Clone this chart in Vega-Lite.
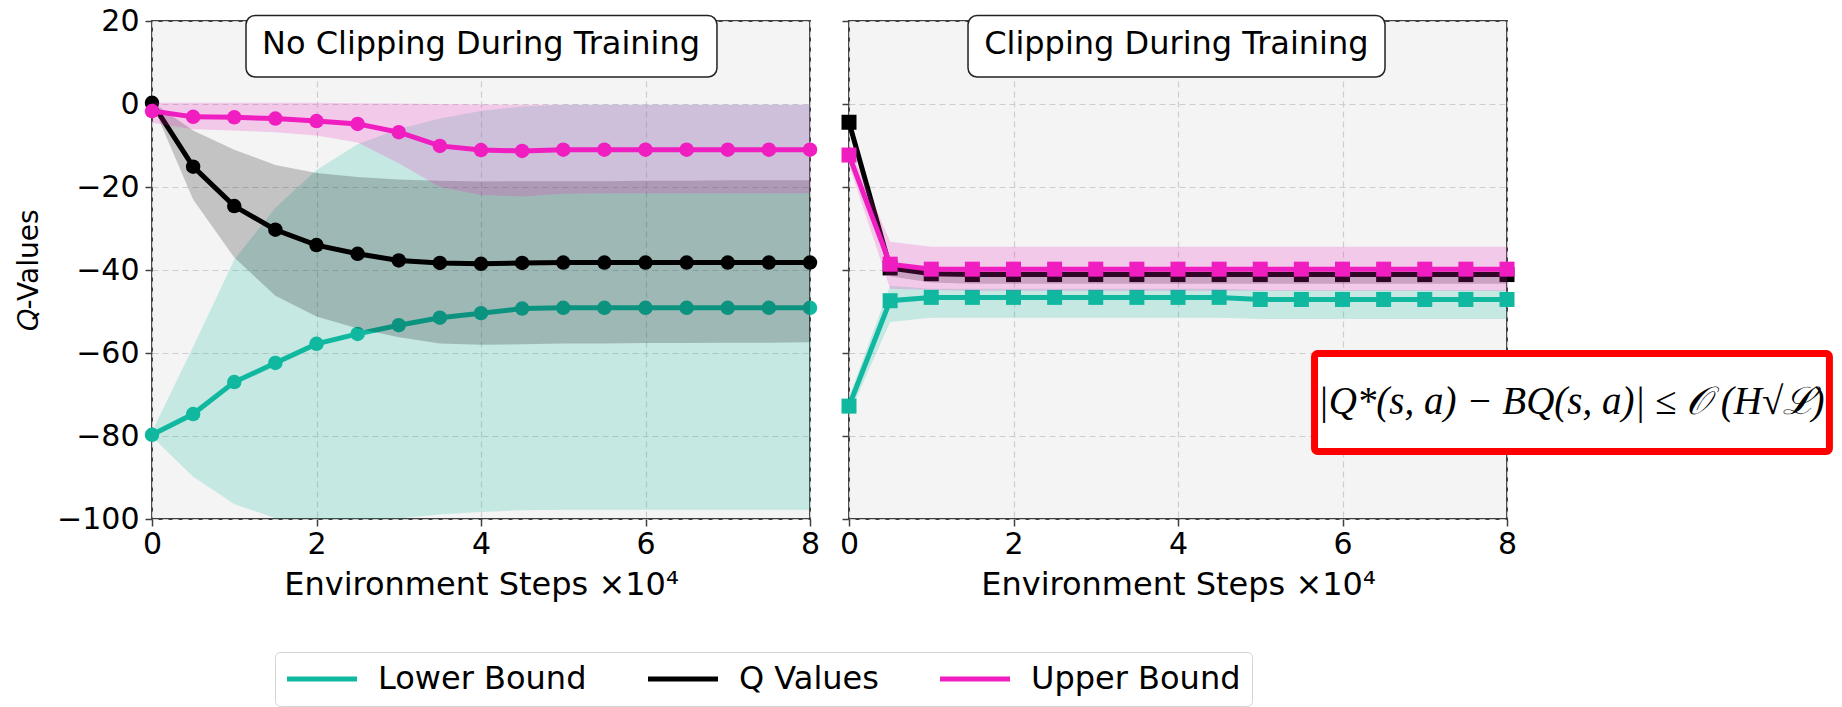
{
  "$schema": "https://vega.github.io/schema/vega-lite/v6.json",
  "padding": {"left": 14, "top": 5, "right": 5, "bottom": 0},
  "background": "white",
  "bounds": "flush",
  "spacing": 39,
  "resolve": {"scale": {"color": "shared", "fill": "shared"}, "legend": {"color": "shared"}},
  "config": {
    "font": "DejaVu Sans",
    "view": {"fill": "#f4f4f4", "stroke": "#404040", "strokeWidth": 2},
    "axis": {"labelFont": "DejaVu Sans", "titleFont": "DejaVu Sans", "labelColor": "#000", "titleColor": "#000", "titleFontWeight": "normal", "tickColor": "#404040", "tickWidth": 1.5, "tickSize": 7, "domain": false, "gridColor": "#cdcdcd", "gridDash": [6, 4], "gridWidth": 1.2, "labelFlush": false, "labelOverlap": false, "labelBound": false},
    "axisX": {"labelFontSize": 30, "titleFontSize": 32, "labelPadding": 3, "titlePadding": 10},
    "axisY": {"labelFontSize": 30, "titleFontSize": 28, "labelPadding": 6, "titlePadding": 13},
    "legend": {"orient": "none", "legendX": 123, "legendY": 631, "direction": "horizontal", "columns": 3, "symbolType": "M-5,0H5", "symbolSize": 196, "symbolStrokeWidth": 5, "symbolOffset": 20, "symbolOpacity": 1, "labelFontSize": 32, "labelFont": "DejaVu Sans", "labelColor": "#000", "labelOffset": 40, "labelLimit": 0, "columnPadding": 51, "padding": 11, "strokeColor": "#d4d4d4", "cornerRadius": 5, "fillColor": "white"}
  },
  "datasets": {
    "series": [
      {"panel": "L", "series": "Lower Bound", "step": 0, "mean": -79.7, "lo": -80.2, "hi": -79.0},
      {"panel": "L", "series": "Lower Bound", "step": 0.5, "mean": -74.7, "lo": -89.8, "hi": -58.5},
      {"panel": "L", "series": "Lower Bound", "step": 1, "mean": -67.0, "lo": -96.4, "hi": -37.5},
      {"panel": "L", "series": "Lower Bound", "step": 1.5, "mean": -62.4, "lo": -99.8, "hi": -25.0},
      {"panel": "L", "series": "Lower Bound", "step": 2, "mean": -57.8, "lo": -99.9, "hi": -15.9},
      {"panel": "L", "series": "Lower Bound", "step": 2.5, "mean": -55.4, "lo": -100, "hi": -9.7},
      {"panel": "L", "series": "Lower Bound", "step": 3, "mean": -53.3, "lo": -99.9, "hi": -6.0},
      {"panel": "L", "series": "Lower Bound", "step": 3.5, "mean": -51.5, "lo": -98.9, "hi": -3.5},
      {"panel": "L", "series": "Lower Bound", "step": 4, "mean": -50.4, "lo": -98.3, "hi": -1.7},
      {"panel": "L", "series": "Lower Bound", "step": 4.5, "mean": -49.3, "lo": -97.9, "hi": -0.6},
      {"panel": "L", "series": "Lower Bound", "step": 5, "mean": -49.1, "lo": -97.8, "hi": -0.2},
      {"panel": "L", "series": "Lower Bound", "step": 5.5, "mean": -49.1, "lo": -97.8, "hi": -0.2},
      {"panel": "L", "series": "Lower Bound", "step": 6, "mean": -49.1, "lo": -97.8, "hi": -0.2},
      {"panel": "L", "series": "Lower Bound", "step": 6.5, "mean": -49.1, "lo": -97.8, "hi": -0.2},
      {"panel": "L", "series": "Lower Bound", "step": 7, "mean": -49.1, "lo": -97.8, "hi": -0.2},
      {"panel": "L", "series": "Lower Bound", "step": 7.5, "mean": -49.1, "lo": -97.8, "hi": -0.2},
      {"panel": "L", "series": "Lower Bound", "step": 8, "mean": -49.1, "lo": -97.8, "hi": -0.2},
      {"panel": "L", "series": "Q Values", "step": 0, "mean": 0.3, "lo": 0.1, "hi": 0.5},
      {"panel": "L", "series": "Q Values", "step": 0.5, "mean": -15.1, "lo": -23.0, "hi": -6.4},
      {"panel": "L", "series": "Q Values", "step": 1, "mean": -24.6, "lo": -37.0, "hi": -11.0},
      {"panel": "L", "series": "Q Values", "step": 1.5, "mean": -30.3, "lo": -46.2, "hi": -14.7},
      {"panel": "L", "series": "Q Values", "step": 2, "mean": -34.0, "lo": -51.2, "hi": -16.6},
      {"panel": "L", "series": "Q Values", "step": 2.5, "mean": -36.1, "lo": -54.1, "hi": -17.6},
      {"panel": "L", "series": "Q Values", "step": 3, "mean": -37.7, "lo": -56.2, "hi": -18.2},
      {"panel": "L", "series": "Q Values", "step": 3.5, "mean": -38.3, "lo": -57.7, "hi": -18.5},
      {"panel": "L", "series": "Q Values", "step": 4, "mean": -38.5, "lo": -58.0, "hi": -18.7},
      {"panel": "L", "series": "Q Values", "step": 4.5, "mean": -38.3, "lo": -57.9, "hi": -18.6},
      {"panel": "L", "series": "Q Values", "step": 5, "mean": -38.2, "lo": -57.7, "hi": -18.6},
      {"panel": "L", "series": "Q Values", "step": 5.5, "mean": -38.2, "lo": -57.7, "hi": -18.6},
      {"panel": "L", "series": "Q Values", "step": 6, "mean": -38.2, "lo": -57.6, "hi": -18.5},
      {"panel": "L", "series": "Q Values", "step": 6.5, "mean": -38.2, "lo": -57.6, "hi": -18.5},
      {"panel": "L", "series": "Q Values", "step": 7, "mean": -38.2, "lo": -57.5, "hi": -18.4},
      {"panel": "L", "series": "Q Values", "step": 7.5, "mean": -38.2, "lo": -57.5, "hi": -18.4},
      {"panel": "L", "series": "Q Values", "step": 8, "mean": -38.2, "lo": -57.4, "hi": -18.4},
      {"panel": "L", "series": "Upper Bound", "step": 0, "mean": -1.7, "lo": -4.5, "hi": 0.3},
      {"panel": "L", "series": "Upper Bound", "step": 0.5, "mean": -3.1, "lo": -6.1, "hi": 0.3},
      {"panel": "L", "series": "Upper Bound", "step": 1, "mean": -3.2, "lo": -6.4, "hi": 0.3},
      {"panel": "L", "series": "Upper Bound", "step": 1.5, "mean": -3.5, "lo": -6.8, "hi": 0.3},
      {"panel": "L", "series": "Upper Bound", "step": 2, "mean": -4.1, "lo": -7.6, "hi": 0.3},
      {"panel": "L", "series": "Upper Bound", "step": 2.5, "mean": -4.8, "lo": -9.3, "hi": 0.2},
      {"panel": "L", "series": "Upper Bound", "step": 3, "mean": -6.8, "lo": -14.3, "hi": 0.1},
      {"panel": "L", "series": "Upper Bound", "step": 3.5, "mean": -10.1, "lo": -20.0, "hi": 0.0},
      {"panel": "L", "series": "Upper Bound", "step": 4, "mean": -11.1, "lo": -21.9, "hi": -0.1},
      {"panel": "L", "series": "Upper Bound", "step": 4.5, "mean": -11.3, "lo": -22.3, "hi": -0.2},
      {"panel": "L", "series": "Upper Bound", "step": 5, "mean": -11.0, "lo": -21.6, "hi": -0.2},
      {"panel": "L", "series": "Upper Bound", "step": 5.5, "mean": -11.0, "lo": -21.5, "hi": -0.2},
      {"panel": "L", "series": "Upper Bound", "step": 6, "mean": -11.0, "lo": -21.5, "hi": -0.2},
      {"panel": "L", "series": "Upper Bound", "step": 6.5, "mean": -11.0, "lo": -21.5, "hi": -0.2},
      {"panel": "L", "series": "Upper Bound", "step": 7, "mean": -11.0, "lo": -21.5, "hi": -0.2},
      {"panel": "L", "series": "Upper Bound", "step": 7.5, "mean": -11.0, "lo": -21.5, "hi": -0.2},
      {"panel": "L", "series": "Upper Bound", "step": 8, "mean": -11.0, "lo": -21.5, "hi": -0.2},
      {"panel": "R", "series": "Lower Bound", "step": 0, "mean": -72.8, "lo": -74.8, "hi": -70.6},
      {"panel": "R", "series": "Lower Bound", "step": 0.5, "mean": -47.4, "lo": -52.5, "hi": -43.8},
      {"panel": "R", "series": "Lower Bound", "step": 1, "mean": -46.6, "lo": -51.5, "hi": -44.5},
      {"panel": "R", "series": "Lower Bound", "step": 1.5, "mean": -46.6, "lo": -51.5, "hi": -44.5},
      {"panel": "R", "series": "Lower Bound", "step": 2, "mean": -46.6, "lo": -51.5, "hi": -44.5},
      {"panel": "R", "series": "Lower Bound", "step": 2.5, "mean": -46.6, "lo": -51.5, "hi": -44.5},
      {"panel": "R", "series": "Lower Bound", "step": 3, "mean": -46.6, "lo": -51.5, "hi": -44.5},
      {"panel": "R", "series": "Lower Bound", "step": 3.5, "mean": -46.6, "lo": -51.5, "hi": -44.5},
      {"panel": "R", "series": "Lower Bound", "step": 4, "mean": -46.6, "lo": -51.5, "hi": -44.5},
      {"panel": "R", "series": "Lower Bound", "step": 4.5, "mean": -46.6, "lo": -51.5, "hi": -44.5},
      {"panel": "R", "series": "Lower Bound", "step": 5, "mean": -47.1, "lo": -51.8, "hi": -44.8},
      {"panel": "R", "series": "Lower Bound", "step": 5.5, "mean": -47.1, "lo": -51.8, "hi": -44.8},
      {"panel": "R", "series": "Lower Bound", "step": 6, "mean": -47.1, "lo": -51.8, "hi": -44.8},
      {"panel": "R", "series": "Lower Bound", "step": 6.5, "mean": -47.1, "lo": -51.8, "hi": -44.8},
      {"panel": "R", "series": "Lower Bound", "step": 7, "mean": -47.1, "lo": -51.8, "hi": -44.8},
      {"panel": "R", "series": "Lower Bound", "step": 7.5, "mean": -47.1, "lo": -51.8, "hi": -44.8},
      {"panel": "R", "series": "Lower Bound", "step": 8, "mean": -47.1, "lo": -51.8, "hi": -44.8},
      {"panel": "R", "series": "Q Values", "step": 0, "mean": -4.4, "lo": -5.8, "hi": -3.0},
      {"panel": "R", "series": "Q Values", "step": 0.5, "mean": -39.5, "lo": -41.5, "hi": -38.0},
      {"panel": "R", "series": "Q Values", "step": 1, "mean": -40.9, "lo": -43.0, "hi": -39.8},
      {"panel": "R", "series": "Q Values", "step": 1.5, "mean": -41.1, "lo": -43.3, "hi": -40.0},
      {"panel": "R", "series": "Q Values", "step": 2, "mean": -41.1, "lo": -43.3, "hi": -40.0},
      {"panel": "R", "series": "Q Values", "step": 2.5, "mean": -41.1, "lo": -43.3, "hi": -40.0},
      {"panel": "R", "series": "Q Values", "step": 3, "mean": -41.1, "lo": -43.3, "hi": -40.0},
      {"panel": "R", "series": "Q Values", "step": 3.5, "mean": -41.1, "lo": -43.3, "hi": -40.0},
      {"panel": "R", "series": "Q Values", "step": 4, "mean": -41.1, "lo": -43.3, "hi": -40.0},
      {"panel": "R", "series": "Q Values", "step": 4.5, "mean": -41.1, "lo": -43.3, "hi": -40.0},
      {"panel": "R", "series": "Q Values", "step": 5, "mean": -41.1, "lo": -43.3, "hi": -40.0},
      {"panel": "R", "series": "Q Values", "step": 5.5, "mean": -41.1, "lo": -43.3, "hi": -40.0},
      {"panel": "R", "series": "Q Values", "step": 6, "mean": -41.1, "lo": -43.3, "hi": -40.0},
      {"panel": "R", "series": "Q Values", "step": 6.5, "mean": -41.1, "lo": -43.3, "hi": -40.0},
      {"panel": "R", "series": "Q Values", "step": 7, "mean": -41.1, "lo": -43.3, "hi": -40.0},
      {"panel": "R", "series": "Q Values", "step": 7.5, "mean": -41.1, "lo": -43.3, "hi": -40.0},
      {"panel": "R", "series": "Q Values", "step": 8, "mean": -41.1, "lo": -43.3, "hi": -40.0},
      {"panel": "R", "series": "Upper Bound", "step": 0, "mean": -12.3, "lo": -14.7, "hi": -10.0},
      {"panel": "R", "series": "Upper Bound", "step": 0.5, "mean": -38.6, "lo": -44.5, "hi": -33.2},
      {"panel": "R", "series": "Upper Bound", "step": 1, "mean": -39.8, "lo": -44.8, "hi": -34.4},
      {"panel": "R", "series": "Upper Bound", "step": 1.5, "mean": -39.8, "lo": -45.0, "hi": -34.4},
      {"panel": "R", "series": "Upper Bound", "step": 2, "mean": -39.8, "lo": -45.0, "hi": -34.4},
      {"panel": "R", "series": "Upper Bound", "step": 2.5, "mean": -39.8, "lo": -45.0, "hi": -34.4},
      {"panel": "R", "series": "Upper Bound", "step": 3, "mean": -39.8, "lo": -45.0, "hi": -34.4},
      {"panel": "R", "series": "Upper Bound", "step": 3.5, "mean": -39.8, "lo": -45.0, "hi": -34.4},
      {"panel": "R", "series": "Upper Bound", "step": 4, "mean": -39.8, "lo": -45.0, "hi": -34.4},
      {"panel": "R", "series": "Upper Bound", "step": 4.5, "mean": -39.8, "lo": -45.0, "hi": -34.4},
      {"panel": "R", "series": "Upper Bound", "step": 5, "mean": -39.8, "lo": -45.0, "hi": -34.4},
      {"panel": "R", "series": "Upper Bound", "step": 5.5, "mean": -39.8, "lo": -45.0, "hi": -34.4},
      {"panel": "R", "series": "Upper Bound", "step": 6, "mean": -39.8, "lo": -45.0, "hi": -34.4},
      {"panel": "R", "series": "Upper Bound", "step": 6.5, "mean": -39.8, "lo": -45.0, "hi": -34.4},
      {"panel": "R", "series": "Upper Bound", "step": 7, "mean": -39.8, "lo": -45.0, "hi": -34.4},
      {"panel": "R", "series": "Upper Bound", "step": 7.5, "mean": -39.8, "lo": -45.0, "hi": -34.4},
      {"panel": "R", "series": "Upper Bound", "step": 8, "mean": -39.8, "lo": -45.0, "hi": -34.4}
    ]
  },
  "hconcat": [
    {
      "width": 658,
      "height": 498,
      "layer": [
        {
          "data": {"name": "series"},
          "transform": [{"filter": "datum.panel == 'L' && datum.series == 'Lower Bound'"}],
          "layer": [
            {"mark": {"type": "area", "fillOpacity": 0.2},
             "encoding": {
               "x": {"field": "step", "type": "quantitative", "scale": {"domain": [0, 8], "nice": false, "zero": false}, "axis": {"values": [0, 2, 4, 6, 8], "format": "d", "title": "Environment Steps ×10⁴"}},
               "y": {"field": "lo", "type": "quantitative", "scale": {"domain": [-100, 20], "nice": false, "zero": false}, "axis": {"values": [-100, -80, -60, -40, -20, 0, 20], "title": "𝑄-Values"}},
               "y2": {"field": "hi"},
               "fill": {"field": "series", "type": "nominal", "scale": {"domain": ["Q Values", "Lower Bound", "Upper Bound"], "range": ["#000000", "#10b8a0", "#f01ec0"]}, "legend": null}}},
            {"mark": {"type": "line", "strokeWidth": 5},
             "encoding": {
               "x": {"field": "step", "type": "quantitative"},
               "y": {"field": "mean", "type": "quantitative"},
               "color": {"field": "series", "type": "nominal", "title": null, "scale": {"domain": ["Lower Bound", "Q Values", "Upper Bound"], "range": ["#10b8a0", "#000000", "#f01ec0"]}}}},
            {"mark": {"type": "point", "filled": true, "size": 210, "shape": "circle", "opacity": 1},
             "encoding": {
               "x": {"field": "step", "type": "quantitative"},
               "y": {"field": "mean", "type": "quantitative"},
               "fill": {"field": "series", "type": "nominal", "legend": null}}}
          ]
        },
        {
          "data": {"name": "series"},
          "transform": [{"filter": "datum.panel == 'L' && datum.series == 'Q Values'"}],
          "layer": [
            {"mark": {"type": "area", "fillOpacity": 0.2},
             "encoding": {"x": {"field": "step", "type": "quantitative"}, "y": {"field": "lo", "type": "quantitative"}, "y2": {"field": "hi"}, "fill": {"field": "series", "type": "nominal", "legend": null}}},
            {"mark": {"type": "line", "strokeWidth": 5},
             "encoding": {"x": {"field": "step", "type": "quantitative"}, "y": {"field": "mean", "type": "quantitative"}, "color": {"field": "series", "type": "nominal", "title": null}}},
            {"mark": {"type": "point", "filled": true, "size": 210, "shape": "circle", "opacity": 1},
             "encoding": {"x": {"field": "step", "type": "quantitative"}, "y": {"field": "mean", "type": "quantitative"}, "fill": {"field": "series", "type": "nominal", "legend": null}}}
          ]
        },
        {
          "data": {"name": "series"},
          "transform": [{"filter": "datum.panel == 'L' && datum.series == 'Upper Bound'"}],
          "layer": [
            {"mark": {"type": "area", "fillOpacity": 0.2},
             "encoding": {"x": {"field": "step", "type": "quantitative"}, "y": {"field": "lo", "type": "quantitative"}, "y2": {"field": "hi"}, "fill": {"field": "series", "type": "nominal", "legend": null}}},
            {"mark": {"type": "line", "strokeWidth": 5},
             "encoding": {"x": {"field": "step", "type": "quantitative"}, "y": {"field": "mean", "type": "quantitative"}, "color": {"field": "series", "type": "nominal", "title": null}}},
            {"mark": {"type": "point", "filled": true, "size": 210, "shape": "circle", "opacity": 1},
             "encoding": {"x": {"field": "step", "type": "quantitative"}, "y": {"field": "mean", "type": "quantitative"}, "fill": {"field": "series", "type": "nominal", "legend": null}}}
          ]
        },
        {
          "data": {"values": [{"label": "No Clipping During Training"}]},
          "layer": [
            {"mark": {"type": "rect", "fill": "white", "stroke": "#222222", "strokeWidth": 1.5, "cornerRadius": 9},
             "encoding": {"x": {"datum": 1.143}, "x2": {"datum": 6.869}, "y": {"datum": 21.33}, "y2": {"datum": 6.51}}},
            {"mark": {"type": "text", "fontSize": 32, "font": "DejaVu Sans", "color": "#000", "align": "center", "baseline": "middle"},
             "encoding": {"x": {"datum": 4.0}, "y": {"datum": 14.34}, "text": {"field": "label"}}}
          ]
        }
      ]
    },
    {
      "width": 658,
      "height": 498,
      "layer": [
        {
          "data": {"name": "series"},
          "transform": [{"filter": "datum.panel == 'R' && datum.series == 'Lower Bound'"}],
          "layer": [
            {"mark": {"type": "area", "fillOpacity": 0.2},
             "encoding": {
               "x": {"field": "step", "type": "quantitative", "scale": {"domain": [0, 8], "nice": false, "zero": false}, "axis": {"values": [0, 2, 4, 6, 8], "format": "d", "title": "Environment Steps ×10⁴"}},
               "y": {"field": "lo", "type": "quantitative", "scale": {"domain": [-100, 20], "nice": false, "zero": false}, "axis": {"values": [-100, -80, -60, -40, -20, 0, 20], "labels": false, "title": null}},
               "y2": {"field": "hi"},
               "fill": {"field": "series", "type": "nominal", "legend": null}}},
            {"mark": {"type": "line", "strokeWidth": 5},
             "encoding": {"x": {"field": "step", "type": "quantitative"}, "y": {"field": "mean", "type": "quantitative"}, "color": {"field": "series", "type": "nominal", "title": null}}},
            {"mark": {"type": "point", "filled": true, "size": 225, "shape": "square", "opacity": 1},
             "encoding": {"x": {"field": "step", "type": "quantitative"}, "y": {"field": "mean", "type": "quantitative"}, "fill": {"field": "series", "type": "nominal", "legend": null}}}
          ]
        },
        {
          "data": {"name": "series"},
          "transform": [{"filter": "datum.panel == 'R' && datum.series == 'Q Values'"}],
          "layer": [
            {"mark": {"type": "area", "fillOpacity": 0.2},
             "encoding": {"x": {"field": "step", "type": "quantitative"}, "y": {"field": "lo", "type": "quantitative"}, "y2": {"field": "hi"}, "fill": {"field": "series", "type": "nominal", "legend": null}}},
            {"mark": {"type": "line", "strokeWidth": 5},
             "encoding": {"x": {"field": "step", "type": "quantitative"}, "y": {"field": "mean", "type": "quantitative"}, "color": {"field": "series", "type": "nominal", "title": null}}},
            {"mark": {"type": "point", "filled": true, "size": 225, "shape": "square", "opacity": 1},
             "encoding": {"x": {"field": "step", "type": "quantitative"}, "y": {"field": "mean", "type": "quantitative"}, "fill": {"field": "series", "type": "nominal", "legend": null}}}
          ]
        },
        {
          "data": {"name": "series"},
          "transform": [{"filter": "datum.panel == 'R' && datum.series == 'Upper Bound'"}],
          "layer": [
            {"mark": {"type": "area", "fillOpacity": 0.2},
             "encoding": {"x": {"field": "step", "type": "quantitative"}, "y": {"field": "lo", "type": "quantitative"}, "y2": {"field": "hi"}, "fill": {"field": "series", "type": "nominal", "legend": null}}},
            {"mark": {"type": "line", "strokeWidth": 5},
             "encoding": {"x": {"field": "step", "type": "quantitative"}, "y": {"field": "mean", "type": "quantitative"}, "color": {"field": "series", "type": "nominal", "title": null}}},
            {"mark": {"type": "point", "filled": true, "size": 225, "shape": "square", "opacity": 1},
             "encoding": {"x": {"field": "step", "type": "quantitative"}, "y": {"field": "mean", "type": "quantitative"}, "fill": {"field": "series", "type": "nominal", "legend": null}}}
          ]
        },
        {
          "data": {"values": [{"label": "Clipping During Training", "formula": "|Q*(s, a) − BQ(s, a)| ≤ 𝒪 (H√ℒ)"}]},
          "layer": [
            {"mark": {"type": "rect", "fill": "white", "stroke": "#222222", "strokeWidth": 1.5, "cornerRadius": 9},
             "encoding": {"x": {"datum": 1.447}, "x2": {"datum": 6.517}, "y": {"datum": 21.33}, "y2": {"datum": 6.51}}},
            {"mark": {"type": "text", "fontSize": 32, "font": "DejaVu Sans", "color": "#000", "align": "center", "baseline": "middle"},
             "encoding": {"x": {"datum": 3.98}, "y": {"datum": 14.34}, "text": {"field": "label"}}},
            {"mark": {"type": "rect", "fill": "white", "stroke": "#ff0000", "strokeWidth": 7, "cornerRadius": 3},
             "encoding": {"x": {"datum": 5.66}, "x2": {"datum": 11.92}, "y": {"datum": -60.12}, "y2": {"datum": -83.73}}},
            {"mark": {"type": "text", "fontSize": 39, "font": "Liberation Serif", "fontStyle": "italic", "color": "#000", "align": "center", "baseline": "middle"},
             "encoding": {"x": {"datum": 8.78}, "y": {"datum": -71.8}, "text": {"field": "formula"}}}
          ]
        }
      ]
    }
  ]
}
